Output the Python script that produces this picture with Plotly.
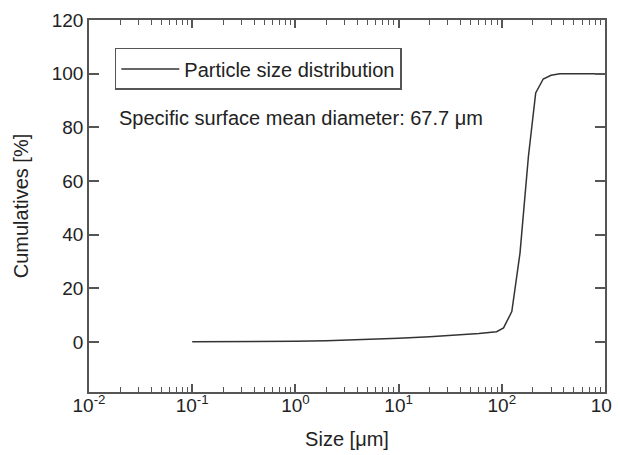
import plotly.graph_objects as go

size_um = [0.1, 0.2, 0.5, 1, 2, 5, 10, 20, 40, 60, 89, 104, 125, 150, 181, 213, 252, 300, 366, 500, 1000]
cumulative = [0.0, 0.0, 0.05, 0.2, 0.4, 0.8, 1.3, 1.9, 2.6, 3.1, 3.8, 5.2, 11.3, 33, 69, 92.8, 98, 99.4, 100, 100, 100]

x_tickvals = [0.01, 0.1, 1, 10, 100, 1000]
x_ticktext = ["10<sup>-2</sup>", "10<sup>-1</sup>", "10<sup>0</sup>", "10<sup>1</sup>", "10<sup>2</sup>", "10<sup>3</sup>"]
y_tickvals = [0, 20, 40, 60, 80, 100, 120]

FONT = "Liberation Sans, Arial, sans-serif"
AX = "#555555"
TXT = "#222222"

fig = go.Figure()
fig.add_trace(go.Scatter(x=size_um, y=cumulative, mode="lines",
                         line=dict(color="#333333", width=1.5),
                         name="Particle size distribution"))
# invisible copy on the label-only axis so that it is drawn
fig.add_trace(go.Scatter(x=size_um, y=cumulative, mode="lines", xaxis="x2",
                         line=dict(color="rgba(0,0,0,0)", width=0),
                         showlegend=False, hoverinfo="skip"))

# page body has an 8px default margin: figure is sized to fit inside the window
fig.update_layout(
    width=612, height=447,
    margin=dict(l=81, r=15, t=12, b=63, autoexpand=False),
    paper_bgcolor="white", plot_bgcolor="white",
    font=dict(family=FONT, size=19, color=TXT),
    showlegend=True,
    legend=dict(x=0.05, y=0.925, xanchor="left", yanchor="top",
                bordercolor=AX, borderwidth=1.5, bgcolor="white",
                itemwidth=58,
                font=dict(size=20, color=TXT)),
    annotations=[dict(text="Specific surface mean diameter: 67.7 μm",
                      xref="paper", yref="paper", x=0.055, y=0.737,
                      xanchor="left", yanchor="middle", showarrow=False,
                      font=dict(size=20, color=TXT))],
)
# tick marks (major + minor) axis
fig.update_xaxes(type="log", range=[-2, 3], tickmode="linear", tick0=0, dtick=1,
                 showticklabels=False, automargin=False,
                 showline=True, linecolor=AX, linewidth=1.5, mirror="ticks",
                 ticks="inside", ticklen=8, tickcolor=AX, tickwidth=1.5,
                 showgrid=False, zeroline=False,
                 minor=dict(dtick="D1", ticks="inside",
                            ticklen=5, tickcolor=AX, tickwidth=1.2, showgrid=False))
# label axis
fig.update_layout(xaxis2=dict(type="log", range=[-2, 3], overlaying="x", anchor="y",
                              side="bottom", tickmode="array",
                              tickvals=x_tickvals, ticktext=x_ticktext,
                              ticklabeloverflow="allow",
                              ticks="", showline=False, showgrid=False, zeroline=False,
                              automargin=False, tickfont=dict(size=19, color=TXT),
                              title=dict(text="Size [μm]", standoff=16,
                                         font=dict(size=20, color=TXT))))
fig.update_yaxes(range=[-18.7, 120], tickmode="array", tickvals=y_tickvals,
                 automargin=False,
                 showline=True, linecolor=AX, linewidth=1.5, mirror="ticks",
                 ticks="inside", ticklen=10, tickcolor=AX, tickwidth=1.5,
                 showgrid=False, zeroline=False,
                 title=dict(text="Cumulatives [%]", standoff=18, font=dict(size=20)))

fig.write_html("out.html")
